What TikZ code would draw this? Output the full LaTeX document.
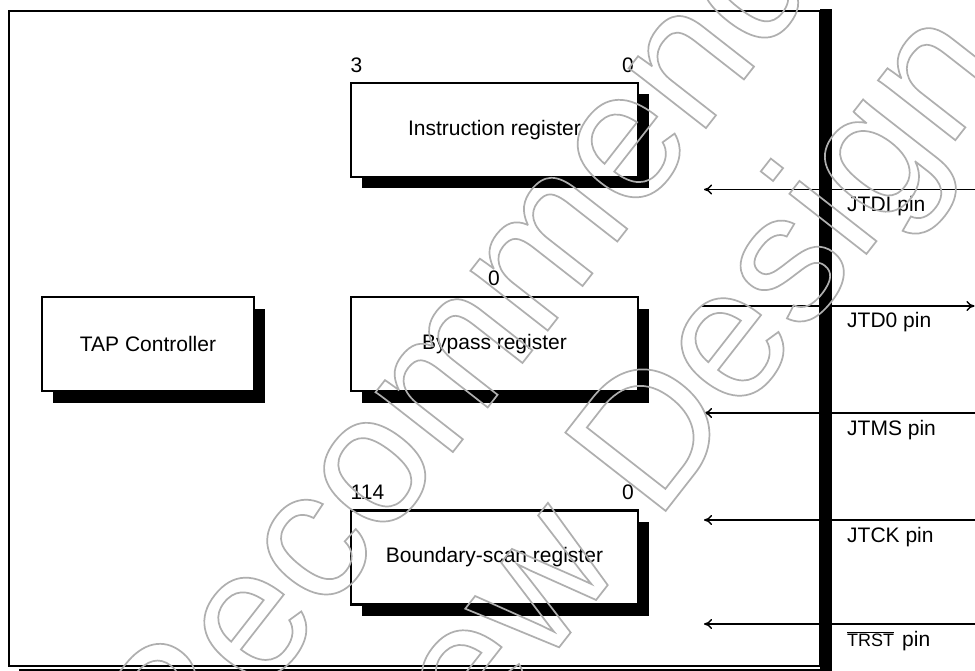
\documentclass[tikz,border=0pt]{standalone}
\usepackage{fontspec}
\setmainfont{Liberation Sans}
\usetikzlibrary{arrows.meta,shadows}
\definecolor{wmgray}{RGB}{175,175,175}
\newcommand\wmoutline[1]{\special{pdf:literal direct 1 Tr 1.7 w}#1\special{pdf:literal direct 0 Tr}}
\begin{document}
\begin{tikzpicture}[x=1pt,y=-1pt,
  lbl/.style={inner sep=0pt, font=\fontsize{21}{24}\selectfont},
  reg/.style={draw=black, line width=2.3pt, minimum height=94pt, inner sep=0pt,
    general shadow={fill=black, shadow xshift=11pt, shadow yshift=-11.5pt},
    fill=white, font=\fontsize{21}{24}\selectfont},
  sig/.style={line width=1.4pt, -{Computer Modern Rightarrow[length=8pt,width=10pt]}},
  wm/.style={inner sep=0pt, rotate=52, anchor=base, text=wmgray,
    font=\fontsize{185}{200}\selectfont}]
\useasboundingbox (0,0) rectangle (975,671);
\fill[white] (0,0) rectangle (975,671);
% chip outline
\node[draw=black, line width=2.4pt, minimum width=811pt, minimum height=655pt, inner sep=0pt] (chip) at (414.5,338.5) {};
\fill[black] (chip.north east) ++(-1.5,-1.2) rectangle (832,690);
\fill[black] (19,669) rectangle (832,690);
% registers
\node[reg, minimum width=287pt] (ir) at (494.5,130) {Instruction register};
\node[reg, minimum width=287pt] (bp) at (494.5,344) {Bypass register};
\node[reg, minimum width=287pt] (bs) at (494.5,557.5) {Boundary-scan register};
\node[reg, minimum width=212pt] (tap) at (148,344) {TAP Controller};
% bit labels
\node[lbl, anchor=base west] (ir3) at (350.5,72.7) {3};
\node[lbl, anchor=base east] (ir0) at (634,72.7) {0};
\node[lbl, anchor=base] (bp0) at (494,286) {0};
\node[lbl, anchor=base west] (bs114) at (350.5,499) {114};
\node[lbl, anchor=base east] (bs0) at (634,499) {0};
% pins
\coordinate (jtdiR) at (975,189.5); \coordinate (jtdiL) at (704,189.5);
\coordinate (jtdoL) at (702,306);   \coordinate (jtdoR) at (974.5,306);
\coordinate (jtmsR) at (975,413);   \coordinate (jtmsL) at (704,413);
\coordinate (jtckR) at (975,520);   \coordinate (jtckL) at (704,520);
\coordinate (trstR) at (975,624);   \coordinate (trstL) at (704,624);
\draw[sig] (jtdiR) -- (jtdiL);
\draw[sig] (jtdoL) -- (jtdoR);
\draw[sig] (jtmsR) -- (jtmsL);
\draw[sig] (jtckR) -- (jtckL);
\draw[sig] (trstR) -- (trstL);
\node[lbl, anchor=base west] (ljtdi) at (847,211.5) {JTDI pin};
\node[lbl, anchor=base west] (ljtdo) at (847,327.5) {JTD0 pin};
\node[lbl, anchor=base west] (ljtms) at (847,435) {JTMS pin};
\node[lbl, anchor=base west] (ljtck) at (847,542) {JTCK pin};
\node[lbl, anchor=base west] (ltrst) at (847,646.5) {{\fontsize{18}{20}\selectfont$\overline{\mbox{TRST}}$}\hspace{8pt}pin};
% watermark
\node[wm] (wm1) at (461,441.6) {\wmoutline{Not Recommended}};
\node[wm] (wm2) at (621.7,567.2) {\wmoutline{for New Design}};
\end{tikzpicture}
\end{document}
